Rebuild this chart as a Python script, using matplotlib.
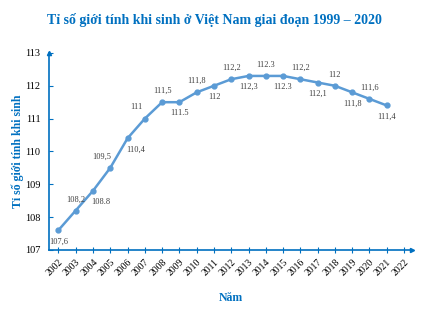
import matplotlib
matplotlib.use("Agg")
import matplotlib.pyplot as plt

# du lieu
nam = list(range(2002, 2022))
ti_so = [107.6, 108.2, 108.8, 109.5, 110.4, 111.0, 111.5, 111.5, 111.8, 112.0,
         112.2, 112.3, 112.3, 112.3, 112.2, 112.1, 112.0, 111.8, 111.6, 111.4]
nhan = ["107,6", "108,2", "108.8", "109,5", "110,4", "111", "111,5", "111.5", "111,8", "112",
        "112,2", "112,3", "112.3", "112.3", "112,2", "112,1", "112", "111,8", "111,6", "111,4"]
# vi tri nhan: 1 = tren, -1 = duoi
vi_tri = [-1, 1, -1, 1, -1, 1, 1, -1, 1, -1, 1, -1, 1, -1, 1, -1, 1, -1, 1, -1]
nam_ticks = list(range(2002, 2023))

xanh = "#0070C0"
mau_duong = "#5B9BD5"

plt.rcParams["font.family"] = ["Liberation Serif", "DejaVu Serif"]

fig = plt.figure(figsize=(4.29, 3.31), dpi=100)
ax = fig.add_axes([0.114, 0.245, 0.846, 0.595])

ax.plot(nam, ti_so, color=mau_duong, lw=1.8, marker="o", ms=3.5, zorder=3)

for x, y, t, v in zip(nam, ti_so, nhan, vi_tri):
    dx = 0
    if t in ("108.8", "110,4"):
        dx = 6
    if t in ("109,5", "111"):
        dx = -6
    ax.annotate(t, (x, y), xytext=(dx, 8 * v), textcoords="offset points",
                ha="center", va="center", fontsize=6, color="#404040")

ax.set_xlim(2001.45, 2022.45)
ax.set_ylim(107, 113)
ax.set_xticks(nam_ticks)
ax.set_xticklabels([str(n) for n in nam_ticks], rotation=45, ha="right",
                   rotation_mode="anchor", fontsize=7)
ax.set_yticks(range(107, 114))
ax.tick_params(axis="y", labelsize=7.5, colors=xanh, labelcolor="black", length=3,
               direction="in", pad=6)
ax.tick_params(axis="x", colors=xanh, labelcolor="black", length=4, direction="inout")

for s in ["top", "right"]:
    ax.spines[s].set_visible(False)
for s in ["left", "bottom"]:
    ax.spines[s].set_color(xanh)
    ax.spines[s].set_linewidth(1.2)

# mui ten
ax.plot(2001.45, 113, marker="^", color=xanh, ms=3, clip_on=False)
ax.plot(2022.45, 107, marker=">", color=xanh, ms=3, clip_on=False)

ax.set_ylabel("Tỉ số giới tính khi sinh", fontsize=8.5, fontweight="bold", color=xanh)
ax.yaxis.set_label_coords(-0.07, 0.5)
ax.set_xlabel("Năm", fontsize=8.5, fontweight="bold", color=xanh, labelpad=10)
fig.text(0.5, 0.94, "Tỉ số giới tính khi sinh ở Việt Nam giai đoạn 1999 – 2020",
         ha="center", va="center", fontsize=10, fontweight="bold", color=xanh)

fig.savefig("out.png", dpi=100)
